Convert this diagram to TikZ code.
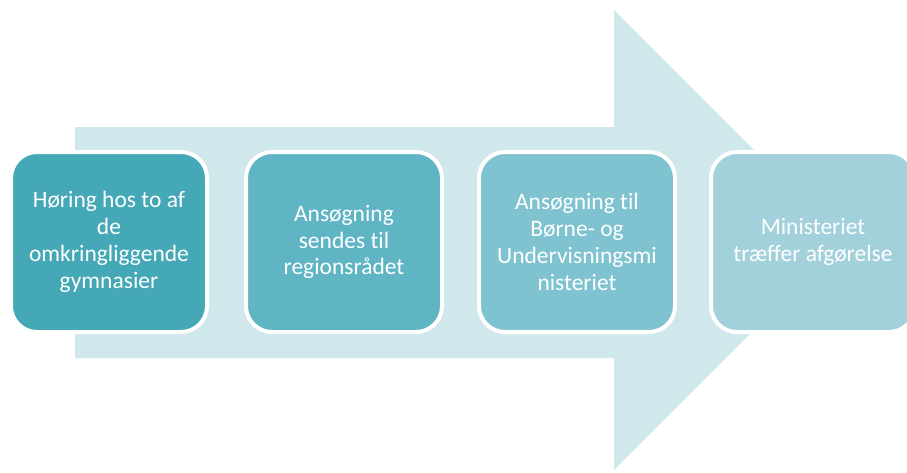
\documentclass[tikz,border=0pt]{standalone}
\usepackage{fontspec}
\setmainfont{Carlito}[Ligatures=NoCommon]
\usetikzlibrary{positioning}

\definecolor{arrowbg}{HTML}{D0E7EB}
\definecolor{stepa}{HTML}{44A8B6}
\definecolor{stepb}{HTML}{5FB5C4}
\definecolor{stepc}{HTML}{80C3D0}
\definecolor{stepd}{HTML}{A2D1DC}

\tikzset{bb/.style={draw=white, line width=4pt, rounded corners=26pt, minimum width=196pt, minimum height=180pt, align=center, text=white, font=\fontsize{23.5}{26.8}\selectfont}}

\begin{document}
\begin{tikzpicture}[x=1pt, y=-1pt]
    \useasboundingbox[fill=white] (0,0) rectangle (907,472);

    % big arrow behind the steps
    \fill[arrowbg] (75,127) -- (614,127) -- (614,10) -- (844,240) -- (614,470) -- (614,358) -- (75,358) -- cycle;

    \node[bb, fill=stepa] (hoering) at (109,242) {Høring hos to af\\de\\omkringliggende\\gymnasier};
    \node[bb, fill=stepb, right = 35pt of hoering] (region) {Ansøgning\\sendes til\\regionsrådet};
    \node[bb, fill=stepc, right = 33pt of region] (ministerium) {Ansøgning til\\Børne- og\\Undervisningsmi\\nisteriet};
    \node[bb, fill=stepd, minimum width=204pt, right = 32pt of ministerium] (afgoerelse) {Ministeriet\\træffer afgørelse};

\end{tikzpicture}
\end{document}
